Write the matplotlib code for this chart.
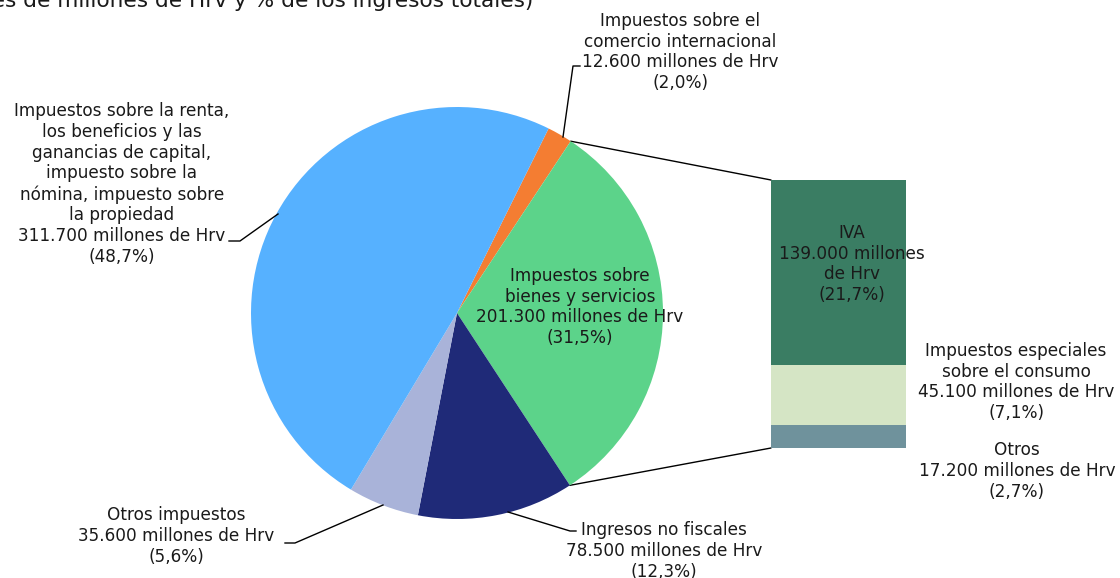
import numpy as np
import matplotlib
matplotlib.use("Agg")
import matplotlib.pyplot as plt
from matplotlib.patches import ConnectionPatch

# pie data (clockwise from the orange slice)
pie_labels = [
    "Impuestos sobre el\ncomercio internacional\n12.600 millones de Hrv\n(2,0%)",
    "Impuestos sobre\nbienes y servicios\n201.300 millones de Hrv\n(31,5%)",
    "Ingresos no fiscales\n78.500 millones de Hrv\n(12,3%)",
    "Otros impuestos\n35.600 millones de Hrv\n(5,6%)",
    "Impuestos sobre la renta,\nlos beneficios y las\nganancias de capital,\nimpuesto sobre la\nnómina, impuesto sobre\nla propiedad\n311.700 millones de Hrv\n(48,7%)",
]
pie_values = [12.6, 201.3, 78.5, 35.6, 311.7]
pie_colors = ["#F47D32", "#5CD38A", "#1F2A78", "#A9B3D9", "#56B1FF"]

# breakdown of "bienes y servicios" (bottom to top)
bar_labels = [
    "Otros\n17.200 millones de Hrv\n(2,7%)",
    "Impuestos especiales\nsobre el consumo\n45.100 millones de Hrv\n(7,1%)",
    "IVA\n139.000 millones\nde Hrv\n(21,7%)",
]
bar_values = [17.2, 45.1, 139.0]
bar_colors = ["#6F929C", "#D5E5C5", "#3A7D63"]

W, H = 1120, 578
FS = 12.2
TXT = dict(ha="center", va="center", fontsize=FS, linespacing=1.2, color="#1a1a1a")
plt.rcParams["font.family"] = ["DejaVu Sans"]

fig = plt.figure(figsize=(W / 100, H / 100), dpi=100)
ax = fig.add_axes([0, 0, 1, 1])
ax.set_zorder(2)
ax.axis("off")

def py(y):
    # pixel row (from top) -> data y
    return H - y

cx, cy, r = 457, py(313), 206
wedges, _ = ax.pie(pie_values, colors=pie_colors, startangle=63.6,
                   counterclock=False, radius=r, center=(cx, cy),
                   wedgeprops=dict(linewidth=0))
ax.set_xlim(0, W)
ax.set_ylim(0, H)
ax.set_aspect("equal")

def edge(theta):
    t = np.deg2rad(theta)
    return cx + r * np.cos(t), cy + r * np.sin(t)

# labels
ax.text(680, py(52), pie_labels[0], **TXT)
ax.text(580, py(307), pie_labels[1], **TXT)
ax.text(664, py(551), pie_labels[2], **TXT)
ax.text(176, py(536), pie_labels[3], **TXT)
ax.text(122, py(184), pie_labels[4], **TXT)

# leader lines
ax.plot([563, 573, 580], [py(137), py(66), py(66)], color="black", lw=1)
ax.plot([229, 240, 278], [py(241), py(241), py(214)], color="black", lw=1)
ax.plot([508, 570, 576], [py(512), py(531), py(531)], color="black", lw=1)
ax.plot([383, 295, 285], [py(505), py(543), py(543)], color="black", lw=1)

# stacked bar for the breakdown
bx0, bx1, btop, bbot = 771, 906, 180, 448
bax = fig.add_axes([bx0 / W, (H - bbot) / H, (bx1 - bx0) / W, (bbot - btop) / H])
bax.set_zorder(1)
bottom = 0
for v, c in zip(bar_values, bar_colors):
    bax.bar(0, v, bottom=bottom, width=1, color=c, linewidth=0)
    bottom += v
bax.set_xlim(-0.5, 0.5)
bax.set_ylim(0, sum(bar_values))
bax.axis("off")

ax.text(852, py(264), bar_labels[2], **TXT)
ax.text(1016, py(382), bar_labels[1], **TXT)
ax.text(1017, py(471), bar_labels[0], **TXT)

# connectors from the green slice to the bar
t_top = wedges[1].theta2
t_bot = wedges[1].theta1
for theta, yb in [(t_top, sum(bar_values)), (t_bot, 0)]:
    con = ConnectionPatch(xyA=edge(theta), coordsA=ax.transData,
                          xyB=(-0.5, yb), coordsB=bax.transData,
                          color="black", lw=1)
    fig.add_artist(con)

# title, clipped at the top like the original
ax.text(533, py(7), "(miles de millones de Hrv y % de los ingresos totales)",
        ha="right", va="baseline", fontsize=15.6, color="#1a1a1a")

fig.savefig("out.png", dpi=100)
